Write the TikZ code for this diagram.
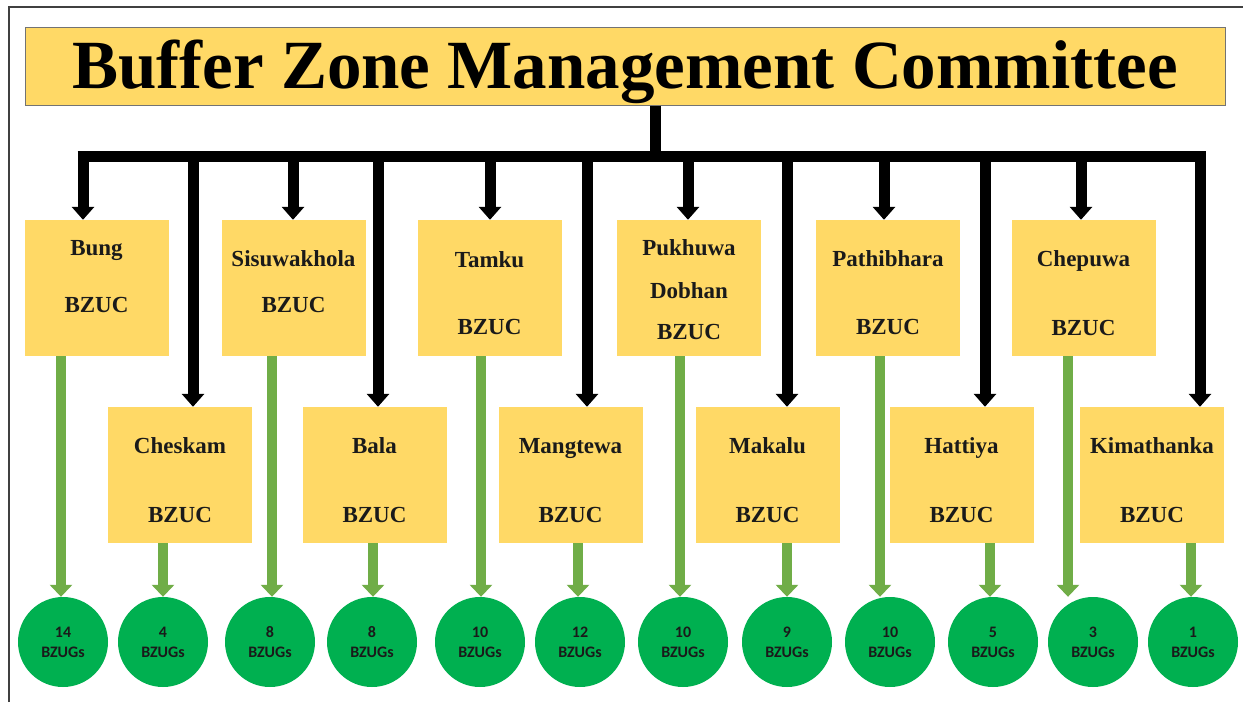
\documentclass[tikz,border=0pt]{standalone}
\usepackage{fontspec}
\setmainfont{Liberation Serif}
\newfontfamily\calib{Carlito}
\usepackage{xcolor}
\usepackage{tikz}
\usetikzlibrary{arrows.meta,positioning,calc}

\definecolor{bzgold}{HTML}{FFD966}
\definecolor{bzarrow}{HTML}{70AD47}
\definecolor{bzcircle}{HTML}{00B050}
\definecolor{bzink}{HTML}{1A1A1A}

\tikzset{
  titlebox/.style={fill=bzgold, draw=black!55, line width=1pt, minimum width=1200pt, minimum height=78pt, inner sep=0pt,
    text height=50pt, text depth=6pt, font=\fontsize{69}{69}\selectfont\bfseries},
  zbox/.style={fill=bzgold, minimum width=144pt, minimum height=136pt, inner sep=0pt},
  zname/.style={anchor=base, inner sep=0pt, text=bzink, font=\fontsize{23}{23}\selectfont\bfseries},
  ugcircle/.style={circle, fill=bzcircle, minimum size=90pt, inner sep=0pt, align=center, text=bzink,
    font=\calib\fontsize{16}{20}\selectfont\bfseries},
  bus/.style={line width=11pt},
  busarrow/.style={line width=11pt, -{Triangle[width=22pt,length=13pt]}},
  grnarrow/.style={bzarrow, line width=10pt, -{Triangle[width=22pt,length=12pt]}},
}

\begin{document}
\begin{tikzpicture}[x=1pt, y=-1pt]
    \useasboundingbox (0,0) rectangle (1243,702);
    \fill[white] (0,0) rectangle (1243,702);
    \draw[line width=1.5pt, black!75] (9,702) -- (9,7) -- (1243,7); % frame

    \node[titlebox] (bzmc) at (625,66) {Buffer Zone Management Committee};

    % upper row of BZUCs
    \node[zbox] (bung) at (96.5,288) {};
    \node[zbox] (sisu) at (293.5,288) {};
    \node[zbox] (tamku) at (489.5,288) {};
    \node[zbox] (pukhuwa) at (689,288) {};
    \node[zbox] (pathibhara) at (888,288) {};
    \node[zbox] (chepuwa) at (1083.5,288) {};
    % lower row of BZUCs
    \node[zbox] (cheskam) at (180,475) {};
    \node[zbox] (bala) at (374.5,475) {};
    \node[zbox] (mangtewa) at (570.5,475) {};
    \node[zbox] (makalu) at (767.5,475) {};
    \node[zbox] (hattiya) at (961.5,475) {};
    \node[zbox] (kimathanka) at (1152,475) {};

    \node[zname] (bungN) at (96.5,255) {Bung};
    \node[zname] (bungB) at (96.5,312) {BZUC};
    \node[zname] (sisuN) at (293.5,266) {Sisuwakhola};
    \node[zname] (sisuB) at (293.5,312) {BZUC};
    \node[zname] (tamkuN) at (489.5,267) {Tamku};
    \node[zname] (tamkuB) at (489.5,334) {BZUC};
    \node[zname] (pukhuwaN) at (689,255) {Pukhuwa};
    \node[zname] (pukhuwaD) at (689,298) {Dobhan};
    \node[zname] (pukhuwaB) at (689,339) {BZUC};
    \node[zname] (pathibharaN) at (888,266) {Pathibhara};
    \node[zname] (pathibharaB) at (888,334) {BZUC};
    \node[zname] (chepuwaN) at (1083.5,266) {Chepuwa};
    \node[zname] (chepuwaB) at (1083.5,335) {BZUC};
    \node[zname] (cheskamN) at (180,453) {Cheskam};
    \node[zname] (cheskamB) at (180,522) {BZUC};
    \node[zname] (balaN) at (374.5,453) {Bala};
    \node[zname] (balaB) at (374.5,522) {BZUC};
    \node[zname] (mangtewaN) at (570.5,453) {Mangtewa};
    \node[zname] (mangtewaB) at (570.5,522) {BZUC};
    \node[zname] (makaluN) at (767.5,453) {Makalu};
    \node[zname] (makaluB) at (767.5,522) {BZUC};
    \node[zname] (hattiyaN) at (961.5,453) {Hattiya};
    \node[zname] (hattiyaB) at (961.5,522) {BZUC};
    \node[zname] (kimathankaN) at (1152,453) {Kimathanka};
    \node[zname] (kimathankaB) at (1152,522) {BZUC};

    % user groups
    \node[ugcircle] (c1) at (63,642) {14\\BZUGs};
    \node[ugcircle] (c2) at (163,642) {4\\BZUGs};
    \node[ugcircle] (c3) at (270,642) {8\\BZUGs};
    \node[ugcircle] (c4) at (372,642) {8\\BZUGs};
    \node[ugcircle] (c5) at (480,642) {10\\BZUGs};
    \node[ugcircle] (c6) at (580,642) {12\\BZUGs};
    \node[ugcircle] (c7) at (683,642) {10\\BZUGs};
    \node[ugcircle] (c8) at (787,642) {9\\BZUGs};
    \node[ugcircle] (c9) at (890,642) {10\\BZUGs};
    \node[ugcircle] (c10) at (993,642) {5\\BZUGs};
    \node[ugcircle] (c11) at (1093,642) {3\\BZUGs};
    \node[ugcircle] (c12) at (1193,642) {1\\BZUGs};

    % black bus from the committee
    \coordinate (barL) at (77.5,156);
    \coordinate (barR) at (1205.5,156);
    \draw[bus] ([xshift=30pt]bzmc.south) -- ([xshift=30pt]bzmc.south |- barL);
    \draw[bus] (barL) -- (barR);
    \draw[busarrow] ([xshift=-13.5pt]bung.north |- barL) -- ([xshift=-13.5pt]bung.north);
    \draw[busarrow] ([xshift=-0.5pt]sisu.north |- barL) -- ([xshift=-0.5pt]sisu.north);
    \draw[busarrow] ([xshift=0.5pt]tamku.north |- barL) -- ([xshift=0.5pt]tamku.north);
    \draw[busarrow] ([xshift=-1pt]pukhuwa.north |- barL) -- ([xshift=-1pt]pukhuwa.north);
    \draw[busarrow] ([xshift=-4pt]pathibhara.north |- barL) -- ([xshift=-4pt]pathibhara.north);
    \draw[busarrow] ([xshift=-2.5pt]chepuwa.north |- barL) -- ([xshift=-2.5pt]chepuwa.north);
    \draw[busarrow] ([xshift=13pt]cheskam.north |- barL) -- ([xshift=13pt]cheskam.north);
    \draw[busarrow] ([xshift=3.5pt]bala.north |- barL) -- ([xshift=3.5pt]bala.north);
    \draw[busarrow] ([xshift=16.5pt]mangtewa.north |- barL) -- ([xshift=16.5pt]mangtewa.north);
    \draw[busarrow] ([xshift=19.5pt]makalu.north |- barL) -- ([xshift=19.5pt]makalu.north);
    \draw[busarrow] ([xshift=23.5pt]hattiya.north |- barL) -- ([xshift=23.5pt]hattiya.north);
    \draw[busarrow] ([xshift=48pt]kimathanka.north |- barL) -- ([xshift=48pt]kimathanka.north);

    % green arrows to the user groups
    \draw[grnarrow] ([xshift=-35.5pt]bung.south) -- ([xshift=-35.5pt]bung.south |- c1.north);
    \draw[grnarrow] ([xshift=-21.5pt]sisu.south) -- ([xshift=-21.5pt]sisu.south |- c3.north);
    \draw[grnarrow] ([xshift=-8.5pt]tamku.south) -- ([xshift=-8.5pt]tamku.south |- c5.north);
    \draw[grnarrow] ([xshift=-9pt]pukhuwa.south) -- ([xshift=-9pt]pukhuwa.south |- c7.north);
    \draw[grnarrow] ([xshift=-8pt]pathibhara.south) -- ([xshift=-8pt]pathibhara.south |- c9.north);
    \draw[grnarrow] ([xshift=-15.5pt]chepuwa.south) -- ([xshift=-15.5pt]chepuwa.south |- c11.north);
    \draw[grnarrow] ([xshift=-17pt]cheskam.south) -- ([xshift=-17pt]cheskam.south |- c2.north);
    \draw[grnarrow] ([xshift=-1.5pt]bala.south) -- ([xshift=-1.5pt]bala.south |- c4.north);
    \draw[grnarrow] ([xshift=7.5pt]mangtewa.south) -- ([xshift=7.5pt]mangtewa.south |- c6.north);
    \draw[grnarrow] ([xshift=19.5pt]makalu.south) -- ([xshift=19.5pt]makalu.south |- c8.north);
    \draw[grnarrow] ([xshift=28.5pt]hattiya.south) -- ([xshift=28.5pt]hattiya.south |- c10.north);
    \draw[grnarrow] ([xshift=39pt]kimathanka.south) -- ([xshift=39pt]kimathanka.south |- c12.north);
\end{tikzpicture}
\end{document}
